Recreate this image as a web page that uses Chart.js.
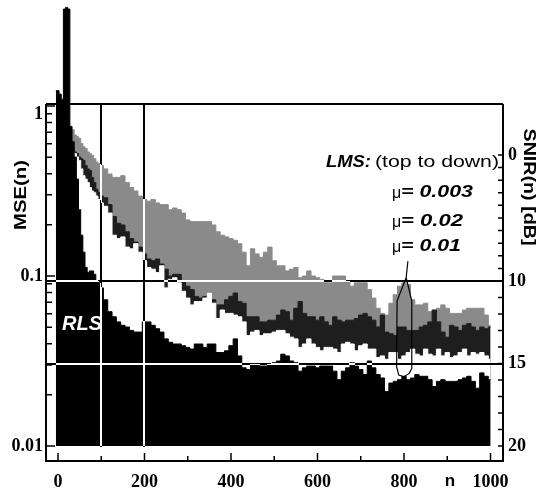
<!DOCTYPE html>
<html>
<head>
<meta charset="utf-8">
<script src="https://cdn.jsdelivr.net/npm/chart.js@4.4.0/dist/chart.umd.min.js"></script>
<style>
  html, body { margin: 0; padding: 0; background: #fff; }
  canvas { display: block; }
</style>
</head>
<body>
<canvas id="myChart" width="542" height="488"></canvas>
<script>
// sample index n
const nSteps = [-5, 0, 5, 10, 15, 20, 25, 30, 35, 40, 45, 50, 55, 60, 65, 70, 75, 80, 85, 90, 95, 100,
  110, 120, 130, 140, 150, 160, 170, 180, 190, 200,
  210, 220, 230, 240, 250, 260, 270, 280, 290, 300,
  310, 320, 330, 340, 350, 360, 370, 380, 390, 400,
  410, 420, 430, 440, 450, 460, 470, 480, 490, 500,
  510, 520, 530, 540, 550, 560, 570, 580, 590, 600,
  610, 620, 630, 640, 650, 660, 670, 680, 690, 700,
  710, 720, 730, 740, 750, 760, 770, 780, 790, 800,
  810, 820, 830, 840, 850, 860, 870, 880, 890, 900,
  910, 920, 930, 940, 950, 960, 970, 980, 990, 1000]

// curves, as -10*log10(MSE) in dB
const rlsDb = [-0.9, -0.9, -0.7, -0.4, -5.7, -5.8, -5.7,
  1.2, 2.1, 3.0, 4.3, 6.1, 7.6, 8.6, 9.5, 9.8, 9.7, 9.7, 9.9, 10.3, 10.4, 10.7,
  11.4, 12.1, 12.4, 12.7, 12.9, 13.0, 13.2, 13.3, 13.3, 12.7,
  12.7, 12.9, 13.1, 13.3, 13.7, 13.9, 14.0, 14.0, 14.1, 14.2,
  14.3, 14.0, 14.0, 14.2, 14.0, 14.0, 14.5, 14.5, 14.4, 14.1,
  13.7, 14.7, 15.4, 15.5, 15.2, 15.2, 15.3, 15.3, 15.2, 15.1,
  15.0, 14.6, 14.7, 15.0, 15.1, 15.6, 15.4, 15.3, 15.3, 15.4,
  15.3, 15.3, 15.3, 15.6, 16.1, 15.6, 15.4, 15.1, 15.3, 15.5,
  15.8, 15.0, 15.4, 15.8, 16.0, 16.8, 16.3, 16.2, 16.1, 15.9,
  16.1, 16.0, 15.8, 15.9, 15.9, 16.1, 16.5, 16.2, 16.1, 16.2,
  16.2, 16.2, 16.1, 16.0, 15.9, 16.2, 16.6, 15.7, 15.9, 16.1]

const mu003Db = [null, null, null, null, null, null, null,
  1.4, 1.4, 1.7, 1.8, 1.9, 2.2, 2.4, 2.5, 2.7, 2.8, 2.9, 3.1, 3.3, 3.4, 3.5,
  3.7, 4.0, 4.2, 4.2, 4.1, 4.5, 4.8, 5.0, 5.3, 5.5,
  5.6, 5.5, 5.7, 5.8, 5.8, 6.1, 6.0, 6.1, 6.3, 6.7,
  6.8, 6.8, 6.8, 6.8, 6.8, 7.0, 7.4, 7.6, 7.7, 7.8,
  7.9, 8.1, 8.6, 9.4, 8.4, 8.7, 8.9, 8.6, 8.3, 9.1,
  9.4, 9.4, 9.7, 9.6, 9.5, 10.1, 10.0, 9.7, 10.0, 10.1,
  10.2, 10.4, 10.4, 10.0, 10.0, 10.0, 10.3, 10.6, 10.4, 10.4,
  10.4, 10.8, 11.3, 11.9, 12.2, 12.3, 11.6, 11.1, 10.6, 10.4,
  10.5, 11.4, 11.7, 11.7, 11.6, 12.1, 12.7, 11.9, 11.7, 11.9,
  12.2, 12.2, 12.2, 12.0, 11.9, 11.9, 11.9, 11.9, 12.3, 12.9]

const mu02Db = [null, null, null, null, null, null, null,
  2.4, 2.5, 2.7, 2.8, 3.0, 3.1, 3.2, 3.5, 3.7, 3.8, 4.2, 4.5, 4.9, 5.1, 5.3,
  5.4, 5.8, 6.5, 6.9, 7.0, 7.4, 7.8, 8.0, 8.3, 8.7,
  9.0, 9.1, 9.0, 9.3, 9.6, 10.0, 9.9, 9.9, 10.3, 10.6,
  10.8, 11.2, 11.3, 11.2, 11.0, 11.4, 11.7, 11.7, 11.4, 11.2,
  11.0, 11.5, 11.6, 12.4, 12.4, 12.4, 12.7, 12.7, 12.6, 12.6,
  12.3, 12.0, 12.1, 12.6, 11.9, 11.5, 12.2, 12.4, 12.4, 12.6,
  12.4, 12.7, 12.9, 12.4, 12.6, 12.7, 12.6, 12.6, 12.5, 12.3,
  12.2, 12.4, 12.6, 13.0, 12.3, 13.3, 13.4, 13.5, 13.0, 13.0,
  13.2, 13.2, 13.2, 13.0, 12.9, 12.7, 12.0, 12.7, 13.3, 13.6,
  12.9, 13.0, 13.2, 12.9, 12.8, 13.0, 13.2, 13.0, 13.1, 13.0]

const mu01Db = [null, null, null, null, null, null, null,
  2.4, 2.7, 2.8, 3.0, 3.2, 3.7, 4.1, 4.3, 4.5, 4.8, 5.0, 5.1, 5.3, 5.5, 5.7,
  5.9, 6.3, 7.6, 7.8, 7.7, 8.3, 8.4, 8.1, 8.6, 9.1,
  9.5, 9.6, 9.8, 9.4, 10.7, 10.2, 10.1, 10.4, 10.9, 11.3,
  11.7, 11.5, 11.5, 11.3, 11.0, 11.6, 12.5, 12.0, 12.2, 12.2,
  12.3, 12.4, 12.7, 13.5, 13.3, 13.2, 13.5, 13.4, 13.4, 13.3,
  13.2, 13.2, 13.4, 13.6, 13.7, 14.2, 14.0, 13.7, 14.0, 14.2,
  14.4, 14.2, 14.2, 14.3, 14.5, 14.0, 13.9, 14.0, 14.4, 14.1,
  14.0, 14.3, 14.3, 14.8, 14.7, 14.9, 14.5, 14.5, 14.9, 14.7,
  14.5, 14.3, 14.6, 14.7, 14.3, 14.6, 14.7, 14.3, 14.7, 14.5,
  14.8, 14.7, 14.5, 14.3, 14.7, 14.5, 14.6, 14.5, 14.7, 14.9]

// axes
const xTicks = [0, 100, 200, 300, 400, 500, 600, 700, 800, 900, 1000]
const xLabels = [0, 200, 400, 600, 800, 1000]
const mseTicks = [1, 0.9, 0.8, 0.7, 0.6, 0.5, 0.4, 0.3, 0.2, 0.1,
  0.09, 0.08, 0.07, 0.06, 0.05, 0.04, 0.03, 0.02, 0.01]
const mseLabels = [1, 0.1, 0.01]
const snirTicks = [0, 1, 2, 3, 4, 5, 6, 7, 8, 9, 10, 11, 12, 13, 14, 15, 16, 17, 18, 19, 20]
const snirLabels = [0, 10, 15, 20]
const gridN = [100, 200]
const gridSnir = [10, 15]
// pointer drawn from the mu = 0.01 label, (n, SNIR dB)
const pointer = [[809, 8.8], [805, 9.8], [784, 11.2], [783, 15.2], [788, 15.7], [800, 15.8],
  [812, 15.6], [818, 15.3], [818, 11.2], [805, 9.8]]

const toMse = (db) => db === null ? null : Math.pow(10, -db / 10)
const points = (arr) => nSteps.map((n, i) => ({ x: n, y: toMse(arr[i]) }))
// the printed 0..10 dB stretch of the right axis is squeezed in the original
const snirPos = (s) => s >= 10 ? s : 2.36 + 0.764 * s

const series = (data, color) => ({
  data: points(data),
  stepped: 'middle',
  fill: { value: 0.01 },
  backgroundColor: color,
  borderColor: color,
  borderWidth: 1,
  pointRadius: 0,
  spanGaps: false
})

const serif = 'bold 18px "Liberation Serif"'
const sans = '"Liberation Sans"'

const text = (c, str, x, y, font, width, align, color) => {
  c.save()
  c.font = font
  c.fillStyle = color || '#000'
  c.textBaseline = 'middle'
  c.textAlign = 'left'
  const w = c.measureText(str).width
  const s = width ? width / w : 1
  const left = align === 'right' ? x - w * s : align === 'center' ? x - w * s / 2 : x
  c.translate(left, y)
  c.scale(s, 1)
  c.fillText(str, 0, 0)
  c.restore()
}

const turned = (c, str, cx, cy, angle, font, length) => {
  c.save()
  c.font = font
  c.fillStyle = '#000'
  c.textBaseline = 'middle'
  c.textAlign = 'center'
  const w = c.measureText(str).width
  c.translate(cx, cy)
  c.rotate(angle)
  c.scale(length / w, 1)
  c.fillText(str, 0, 0)
  c.restore()
}

const paper = {
  id: 'paper',
  beforeDraw(chart) {
    const c = chart.ctx
    c.save()
    c.fillStyle = '#fff'
    c.fillRect(0, 0, chart.width, chart.height)
    c.restore()
  },
  afterDatasetsDraw(chart) {
    const c = chart.ctx
    const a = chart.chartArea
    const { x, y, y2 } = chart.scales
    const top = Math.round(y.getPixelForValue(1)) - 2
    const base = Math.round(y.getPixelForValue(0.01))

    // grid lines: black on paper, white on the filled curves
    const W = chart.width, H = chart.height
    const img = c.getImageData(0, 0, W, H)
    const d = img.data
    const src = d.slice()
    const paint = (px, py) => {
      const k = (py * W + px) * 4
      const lum = 0.3 * src[k] + 0.59 * src[k + 1] + 0.11 * src[k + 2]
      const v = lum > 170 ? 0 : 255
      d[k] = d[k + 1] = d[k + 2] = v
      d[k + 3] = 255
    }
    gridSnir.forEach((s) => {
      const r = Math.round(y2.getPixelForValue(s))
      for (let px = Math.round(a.left); px < Math.round(a.right); px++) { paint(px, r - 1); paint(px, r) }
    })
    gridN.forEach((n) => {
      const col = Math.round(x.getPixelForValue(n))
      for (let py = top; py <= base; py++) { paint(col - 1, py); paint(col, py) }
    })
    c.putImageData(img, 0, 0)

    c.save()
    c.strokeStyle = '#000'
    c.lineWidth = 2
    c.beginPath()
    c.moveTo(a.left, top); c.lineTo(a.right, top)
    c.moveTo(a.left, top); c.lineTo(a.left, a.bottom); c.lineTo(a.right, a.bottom); c.lineTo(a.right, top)
    c.stroke()

    c.lineWidth = 1.5
    c.beginPath()
    mseTicks.forEach((v) => {
      const py = y.getPixelForValue(v)
      c.moveTo(a.left, py); c.lineTo(a.left + (mseLabels.includes(v) ? 9 : 6), py)
    })
    snirTicks.forEach((s) => {
      const py = y2.getPixelForValue(snirPos(s))
      c.moveTo(a.right, py); c.lineTo(a.right - 5, py)
    })
    xTicks.forEach((n) => {
      const px = x.getPixelForValue(n)
      c.moveTo(px, a.bottom); c.lineTo(px, a.bottom - (n % 200 === 0 ? 8 : 5))
    })
    c.stroke()

    c.lineWidth = 1.2
    c.beginPath()
    pointer.forEach(([n, s], i) => {
      const px = x.getPixelForValue(n), py = y2.getPixelForValue(s)
      if (i === 0) c.moveTo(px, py); else c.lineTo(px, py)
    })
    c.stroke()
    c.restore()
  },
  afterDraw(chart) {
    const c = chart.ctx
    const a = chart.chartArea
    const { x, y, y2 } = chart.scales
    const top = y.getPixelForValue(1) - 2

    mseLabels.forEach((v) => {
      text(c, String(v), a.left - 3, Math.max(y.getPixelForValue(v), top + 10), serif, 0, 'right')
    })
    snirLabels.forEach((s) => {
      text(c, String(s), a.right + 5, y2.getPixelForValue(snirPos(s)), serif, 0, 'left')
    })
    xLabels.forEach((n) => {
      text(c, String(n), x.getPixelForValue(n), 482, serif, 0, 'center')
    })
    text(c, 'n', 450, 481, 'bold 17px ' + sans, 0, 'center')

    turned(c, 'MSE(n)', 22, 195, -Math.PI / 2, 'bold 16px ' + sans, 70)
    turned(c, 'SNIR(n) [dB]', 529, 187, Math.PI / 2, 'bold 17px ' + sans, 117)

    text(c, 'LMS:', 326, 163, 'italic bold 16px ' + sans, 45)
    text(c, '(top to down)', 375, 163, '16px ' + sans, 124)
    const mus = [['0.003', 193, 72], ['0.02', 222, 62], ['0.01', 247, 60]]
    mus.forEach(([v, py, w]) => {
      text(c, 'μ', 392, py + 1, '16px ' + sans, 0)
      text(c, '= ' + v, 401, py, 'italic bold 16px ' + sans, w)
    })
    text(c, 'RLS', 62, 324, 'italic bold 20px ' + sans, 40, 'left', '#fff')
  }
}

window.onload = () => {
  const ctx = document.getElementById('myChart')
  const myChart = new Chart(ctx, {
    type: 'line',
    data: {
      datasets: [
        series(rlsDb, '#000'),
        series(mu01Db, '#fff'),
        series(mu02Db, '#1e1e1e'),
        series(mu003Db, '#8a8a8a')
      ]
    },
    options: {
      responsive: false,
      animation: false,
      devicePixelRatio: 1,
      layout: { padding: { left: 46, right: 39, top: 4, bottom: 27 } },
      plugins: { legend: { display: false }, tooltip: { enabled: false } },
      scales: {
        x: { type: 'linear', display: false, min: -27.7, max: 1028.9 },
        y: { type: 'logarithmic', display: false, min: 0.00816, max: 3.98 },
        y2: { type: 'linear', display: false, reverse: true, min: -6.788, max: 20.909 }
      }
    },
    plugins: [paper]
  })
}
</script>
</body>
</html>
